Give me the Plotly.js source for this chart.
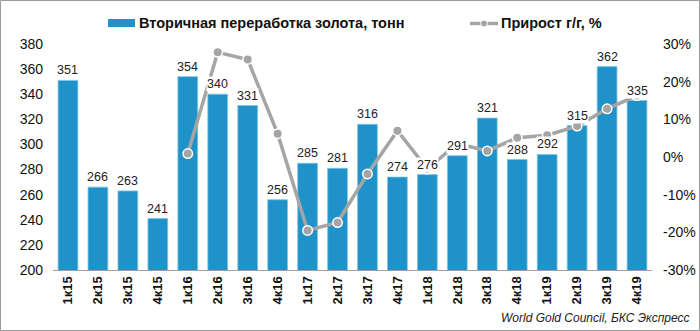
<!DOCTYPE html>
<html>
<head>
<meta charset="utf-8">
<script src="https://cdn.plot.ly/plotly-3.0.1.min.js"></script>
<style>
html,body{margin:0;padding:0;background:#fff;}
#chart{width:700px;height:331px;}
</style>
</head>
<body>
<div id="chart"></div>
<script>
var categories = ["1к15","2к15","3к15","4к15","1к16","2к16","3к16","4к16","1к17","2к17","3к17","4к17","1к18","2к18","3к18","4к18","1к19","2к19","3к19","4к19"];
var recycling = [351,266,263,241,354,340,331,256,285,281,316,274,276,291,321,288,292,315,362,335];
var growth = [null,null,null,null,0.9,27.8,25.9,6.2,-19.5,-17.4,-4.5,7.0,-3.2,3.6,1.6,5.1,5.8,8.2,12.8,16.3];
var leftTicks = [200,220,240,260,280,300,320,340,360,380];
var rightTicks = [-30,-20,-10,0,10,20,30];
var seriesNames = ["Вторичная переработка золота, тонн","Прирост г/г, %"];
var sourceText = "World Gold Council, БКС Экспресс";

var BAR_COLOR = "#1f93c9", LINE_COLOR = "#a5a5a5";
var FONT = "Liberation Sans, Arial, sans-serif";
var L = 53, R = 48, T = 44, B = 61, W = 700, H = 331;
var pw = W - L - R, ph = H - T - B;
function px(x){ return (x - L) / pw; }
function py(y){ return (H - B - y) / ph; }

var traces = [
  {
    type: "bar", name: seriesNames[0], x: categories, y: recycling,
    marker: {color: BAR_COLOR, line: {color: "#7fc3e3", width: 0.8}}
  },
  {
    type: "scatter", mode: "lines+markers", name: seriesNames[1], x: categories, y: growth,
    yaxis: "y2", line: {color: LINE_COLOR, width: 3.5},
    marker: {color: LINE_COLOR, size: 9.5, line: {color: "#ffffff", width: 1.5}},
    connectgaps: false, cliponaxis: false
  }
];

var annotations = [
  {
    text: sourceText, xref: "paper", yref: "paper",
    x: px(691), y: py(318), xanchor: "right", yanchor: "middle",
    showarrow: false,
    font: {family: FONT, size: 12, color: "#222", style: "italic"}
  },
  {
    text: seriesNames[0], xref: "paper", yref: "paper",
    x: px(137), y: py(23), xanchor: "left", yanchor: "middle", showarrow: false,
    font: {family: FONT, size: 14.5, color: "#111", weight: "bold"}
  },
  {
    text: seriesNames[1], xref: "paper", yref: "paper",
    x: px(499), y: py(23), xanchor: "left", yanchor: "middle", showarrow: false,
    font: {family: FONT, size: 14.5, color: "#111", weight: "bold"}
  }
];
// bar value labels, placed on the bar tops through the axes, drawn above the line
categories.forEach(function(c, i){
  annotations.push({
    text: String(recycling[i]), xref: "x", yref: "y", x: c, y: recycling[i],
    xanchor: "center", yanchor: "bottom", yshift: 2, showarrow: false,
    bgcolor: "#ffffff", borderpad: 0,
    font: {family: FONT, size: 12.5, color: "#222"}
  });
});

var layout = {
  width: W, height: H,
  margin: {l: L, r: R, t: T, b: B, pad: 0, autoexpand: false},
  paper_bgcolor: "#ffffff", plot_bgcolor: "#ffffff",
  font: {family: FONT, size: 14, color: "#111"},
  bargap: 0.34,
  showlegend: false,
  xaxis: {
    type: "category", tickangle: -90, showgrid: false, zeroline: false,
    showline: true, linecolor: "#a0a0a0", linewidth: 1, ticks: "",
    tickfont: {family: FONT, size: 13, color: "#111", weight: "bold"},
    range: [-0.5, 19.5], automargin: false
  },
  yaxis: {
    range: [200, 380], tickvals: leftTicks, showgrid: false, zeroline: false,
    showline: false, ticks: "", ticklabelstandoff: 9, automargin: false,
    tickfont: {family: FONT, size: 14, color: "#111"}
  },
  yaxis2: {
    overlaying: "y", side: "right", range: [-30, 30], tickvals: rightTicks,
    ticktext: rightTicks.map(function(v){return v + "%";}),
    showgrid: false, zeroline: false, showline: false, ticks: "", ticklabelstandoff: 10, automargin: false,
    tickfont: {family: FONT, size: 14, color: "#111"}
  },
  annotations: annotations,
  shapes: [
    {
      type: "rect", xref: "paper", yref: "paper", layer: "above",
      x0: px(0.5), x1: px(699.5), y0: py(330.5), y1: py(0.5),
      line: {color: "#9a9a9a", width: 1}, fillcolor: "rgba(0,0,0,0)"
    },
    {
      type: "rect", xref: "paper", yref: "paper",
      x0: px(108), x1: px(135), y0: py(27), y1: py(19),
      line: {width: 0}, fillcolor: BAR_COLOR
    },
    {
      type: "line", xref: "paper", yref: "paper",
      x0: px(470), x1: px(498), y0: py(23.5), y1: py(23.5),
      line: {color: LINE_COLOR, width: 3.5}
    },
    {
      type: "circle", xref: "paper", yref: "paper",
      x0: px(480.5), x1: px(487.5), y0: py(27), y1: py(20),
      line: {color: "#ffffff", width: 1}, fillcolor: LINE_COLOR
    }
  ]
};

Plotly.newPlot("chart", traces, layout, {displayModeBar: false, staticPlot: true});
</script>
</body>
</html>
